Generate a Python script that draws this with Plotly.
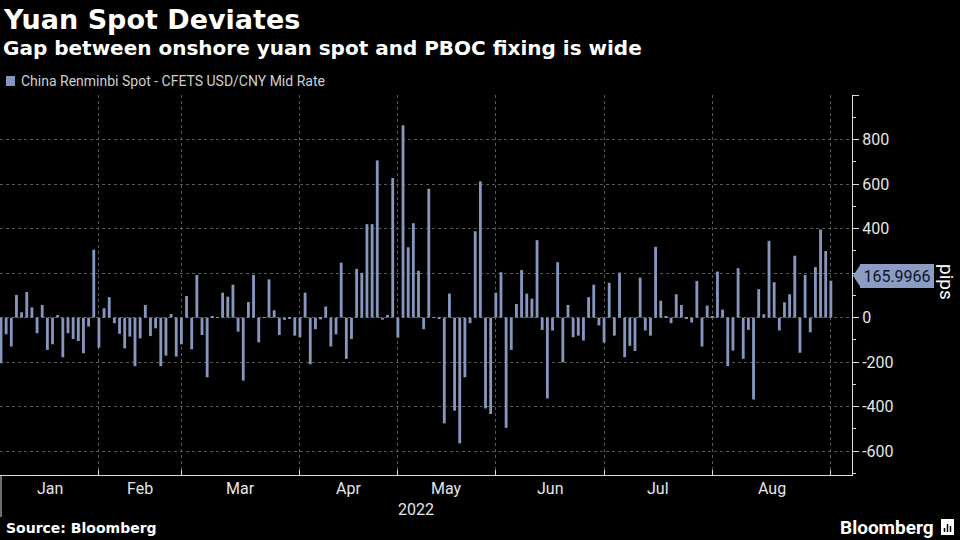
import pandas as pd
import plotly.graph_objects as go

# ---------------- data ----------------
title_text = "Yuan Spot Deviates"
subtitle_text = "Gap between onshore yuan spot and PBOC fixing is wide"
series_name = "China Renminbi Spot - CFETS USD/CNY Mid Rate"
source_text = "Source: Bloomberg"
y_title = "pips"
year_label = "2022"
month_labels = ["Jan", "Feb", "Mar", "Apr", "May", "Jun", "Jul", "Aug"]

first_day = "2022-01-04"
last_day = "2022-09-01"
china_holidays = ["2022-01-03", "2022-01-31", "2022-02-01", "2022-02-02", "2022-02-03",
                  "2022-02-04", "2022-04-04", "2022-04-05", "2022-05-02", "2022-05-03",
                  "2022-05-04", "2022-06-03"]

# spot minus fixing, pips (one value per trading day)
spread_pips = [
    -205, -75, -130, 102, 24, 115, 46, -70, 57, -145,
    -120, 12, -178, -70, -96, -105, -160, -40, 305,
    -135, 42, 92, -25, -73, -138, -85, -218, -93, 57,
    -83, -48, -218, -171, 16, -175,
    -120, 97, -142, 192, -78, -268, 6, 2, 112, 94,
    148, -63, -283, 70, 192, -111, 2, 172, 33, -78,
    -10, -4, -81,
    -88, 112, -210, -52, -8, 50, -130, -75, 247, -185,
    -96, 219, 201, 420, 420, 706, -9, 12, 627,
    -90, 864, 316, 424, 210, -52, 579, 2, -2, -475,
    108, -418, -565, -268, -25, 388, 612, -408, -433,
    112, 204, -495, -145, 61, 214, 108, 85, 348, -55,
    -363, -58, 249, -201, 57, -88, -81, -103, 92, 148,
    -35,
    -112, 156, -81, 202, -178, -127, -150, 180, -58, -81,
    318, 76, 6, -25, 105, 57, -2, -22, 165, -130, 54,
    3, 207, 36, -218, -148, 222, -185, -55, -368, 128,
    15, 345, 159, -58, 69, 105, 278, -158, 192, -66,
    227, 396, 299,
    165.9966,
]
last_value_label = "165.9966"

y_tick_values = [-600, -400, -200, 0, 200, 400, 600, 800, 1000]
y_tick_labels = ["-600", "-400", "-200", "0", "200", "400", "600", "800", ""]

# ---------------- derived ----------------
dates = pd.bdate_range(first_day, last_day)
dates = dates[~dates.isin(pd.to_datetime(china_holidays))]
assert len(dates) == len(spread_pips)
idx = list(range(len(dates)))
months = list(dates.month)
month_starts = [i for i in idx if i == 0 or months[i] != months[i - 1]]
label_pos = [(month_starts[k] + month_starts[k + 1]) / 2 for k in range(len(month_labels))]

BAR = "#8597bf"
TXT = "#e6e6e6"
GRID = "#575757"
AX = "#dcdcdc"
FONT = "Roboto"
BOLD = "DejaVu Sans"

W, H = 960, 540
L, R, T, B = 0, 108, 95, 65
PW, PH = W - L - R, H - T - B
Y0, Y1 = -707, 1000
X0, X1 = -0.19, 165.1


def px(xp):
    return (xp - L) / PW


def py(yp):
    return (H - B - yp) / PH


fig = go.Figure()
fig.add_trace(go.Bar(x=idx, y=spread_pips, marker=dict(color=BAR, line=dict(width=0)),
                     width=0.55, name=series_name, showlegend=False))

annotations = []
shapes = []

# titles
annotations.append(dict(text="<b>" + title_text + "</b>", xref="paper", yref="paper",
                        x=px(1), y=py(20), xanchor="left", yanchor="middle", showarrow=False,
                        font=dict(family=BOLD, size=27, color="#ffffff")))
annotations.append(dict(text="<b>" + subtitle_text + "</b>", xref="paper", yref="paper",
                        x=px(1), y=py(48), xanchor="left", yanchor="middle", showarrow=False,
                        font=dict(family=BOLD, size=20, color="#ffffff")))
# legend
shapes.append(dict(type="rect", xref="paper", yref="paper", x0=px(6), x1=px(15),
                   y0=py(86), y1=py(76), fillcolor=BAR, line=dict(width=0)))
annotations.append(dict(text=series_name, xref="paper", yref="paper", x=px(19), y=py(81),
                        xanchor="left", yanchor="middle", showarrow=False,
                        font=dict(family=FONT, size=14, color="#cfcfcf")))

# month labels and year
for lab, pos in zip(month_labels, label_pos):
    annotations.append(dict(text=lab, xref="x", yref="paper", x=pos, y=py(489),
                            xanchor="center", yanchor="middle", showarrow=False,
                            font=dict(family=FONT, size=16, color=TXT)))
annotations.append(dict(text=year_label, xref="x", yref="paper",
                        x=(month_starts[0] + month_starts[-1]) / 2, y=py(509),
                        xanchor="center", yanchor="middle", showarrow=False,
                        font=dict(family=FONT, size=16, color=TXT)))
shapes.append(dict(type="line", xref="paper", yref="paper", x0=px(1), x1=px(1),
                   y0=py(475), y1=py(517), line=dict(color=AX, width=1)))

# y axis title
annotations.append(dict(text=y_title, xref="paper", yref="paper", x=px(947), y=py(282),
                        xanchor="center", yanchor="middle", showarrow=False, textangle=90,
                        font=dict(family=FONT, size=19, color="#ffffff")))

# last value flag
last_val = spread_pips[-1]
yshift_px = 5
flag_y = (last_val - Y0) / (Y1 - Y0) + yshift_px / PH
half_h = 12 / PH
shapes.append(dict(type="path", xref="paper", yref="paper",
                   path=f"M {px(853)} {flag_y} L {px(861)} {flag_y + half_h} "
                        f"L {px(861)} {flag_y - half_h} Z",
                   fillcolor="#8b9dc3", line=dict(width=0)))
annotations.append(dict(text=last_value_label, xref="paper", yref="y", x=px(860), y=last_val,
                        yshift=yshift_px, xanchor="left", yanchor="middle", showarrow=False,
                        bgcolor="#8b9dc3", borderpad=3, borderwidth=0, width=68, height=18,
                        font=dict(family=FONT, size=16, color="#0d1426")))

# footer
annotations.append(dict(text="<b>" + source_text + "</b>", xref="paper", yref="paper",
                        x=px(4), y=py(528), xanchor="left", yanchor="middle", showarrow=False,
                        font=dict(family=BOLD, size=14, color="#ffffff")))
annotations.append(dict(text="<b>Bloomberg</b>", xref="paper", yref="paper",
                        x=px(936), y=py(527), xanchor="right", yanchor="middle", showarrow=False,
                        font=dict(family=FONT, size=19, color="#ffffff")))
shapes.append(dict(type="rect", xref="paper", yref="paper", x0=px(941), x1=px(954),
                   y0=py(535), y1=py(519), fillcolor="#ffffff", line=dict(width=0)))
for bx, top in [(944.5, 528), (947.5, 524), (950.5, 526)]:
    shapes.append(dict(type="line", xref="paper", yref="paper", x0=px(bx), x1=px(bx),
                       y0=py(532), y1=py(top), line=dict(color="#000000", width=1.5)))

fig.update_layout(
    width=W, height=H,
    margin=dict(l=L, r=R, t=T, b=B, pad=0),
    paper_bgcolor="#000000", plot_bgcolor="#000000",
    font=dict(family=FONT, color=TXT),
    bargap=0.45,
    showlegend=False,
    xaxis=dict(range=[X0, X1], tickmode="array", tickvals=month_starts,
               ticktext=[""] * len(month_starts), ticks="inside", ticklen=5, tickcolor=AX,
               showline=True, linecolor=AX, linewidth=1,
               showgrid=True, gridcolor=GRID, griddash="dot", gridwidth=1,
               zeroline=False, fixedrange=True),
    yaxis=dict(side="right", range=[Y0, Y1], tickmode="array", tickvals=y_tick_values,
               ticktext=y_tick_labels, ticks="outside", ticklen=6, tickcolor=AX,
               showline=True, linecolor=AX, linewidth=1,
               showgrid=True, gridcolor=GRID, griddash="dot", gridwidth=1,
               zeroline=False, tickfont=dict(family=FONT, size=16, color=TXT),
               minor=dict(tickmode="linear", tick0=0, dtick=100, ticks="outside",
                          ticklen=3, tickcolor=AX, showgrid=False),
               fixedrange=True),
    annotations=annotations,
    shapes=shapes,
)

fig.write_html("out.html", config={"displayModeBar": False},
               post_script="document.body.style.margin='0';document.body.style.background='#000';")
